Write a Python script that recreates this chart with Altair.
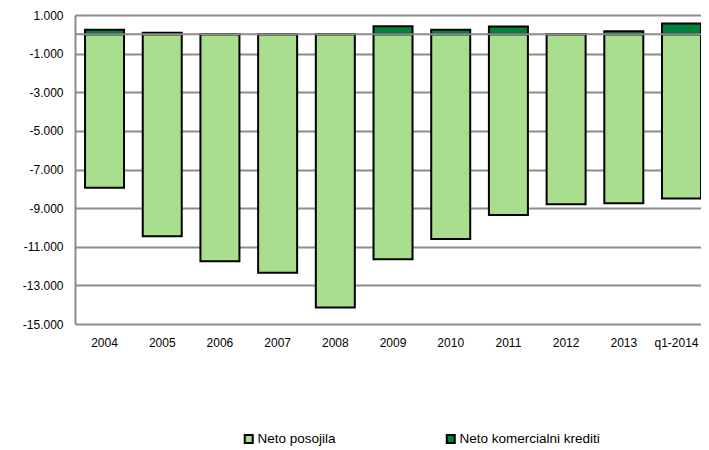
import altair as alt
import pandas as pd

categories = ["2004", "2005", "2006", "2007", "2008", "2009", "2010", "2011", "2012", "2013", "q1-2014"]
neto_posojila = [-7950, -10450, -11750, -12350, -14150, -11650, -10600, -9350, -8800, -8750, -8500]
neto_komercialni = [230, 80, 10, 10, 10, 420, 230, 400, 10, 160, 560]
series_names = ["Neto posojila", "Neto komercialni krediti"]
series_colors = ["#A9DE8F", "#00843D"]
y_ticks = [1000, -1000, -3000, -5000, -7000, -9000, -11000, -13000, -15000]

rows = []
for i, c in enumerate(categories):
    rows.append({"cat": c, "series": series_names[0], "value": neto_posojila[i], "ord": 0})
    rows.append({"cat": c, "series": series_names[1], "value": neto_komercialni[i], "ord": 1})
df = pd.DataFrame(rows)

FONT = "Liberation Sans"

y_axis = alt.Axis(values=y_ticks, ticks=False, domain=True, domainColor="#8c8c8c",
                  domainWidth=2, gridColor="#8c8c8c", gridWidth=2,
                  labelOverlap=False,
                  labelFontSize=12, labelColor="#000000", labelFont=FONT,
                  labelPadding=12,
                  labelExpr="(datum.value < 0 ? '-' : '') + replace(format(abs(datum.value), ','), ',', '.')")
y_scale = alt.Scale(domain=[-15000, 1000], nice=False, zero=False)

bars = alt.Chart(df).mark_bar(stroke="black", strokeWidth=2).encode(
    x=alt.X("cat:N", sort=categories, title=None,
            scale=alt.Scale(paddingInner=0.324, paddingOuter=0.087, align=1),
            axis=alt.Axis(labelAngle=0, ticks=False, domain=False, grid=False,
                          labelPadding=13, labelFontSize=12, labelColor="#000000",
                          labelFont=FONT, labelOverlap=False, labelBound=False,
                          labelOffset=alt.expr("datum.label == 'q1-2014' ? -5 : 0"))),
    y=alt.Y("value:Q", stack="zero", title=None, scale=y_scale, axis=y_axis),
    color=alt.Color("series:N", sort=series_names, title=None,
                    scale=alt.Scale(domain=series_names, range=series_colors),
                    legend=alt.Legend(orient="none", legendX=167, legendY=417, direction="horizontal",
                                      symbolType="square", symbolSize=64, symbolStrokeColor="black",
                                      symbolStrokeWidth=2, labelFontSize=13.5, labelFont=FONT,
                                      labelColor="#000000", columnPadding=106, labelOffset=2)),
    order=alt.Order("ord:Q"),
)

zero_rule = alt.Chart(pd.DataFrame({"value": [0]})).mark_rule(color="#8c8c8c", strokeWidth=2).encode(
    y=alt.Y("value:Q", title=None, scale=y_scale, axis=y_axis)
)

chart = alt.layer(bars, zero_rule).properties(
    width=626, height=309,
    padding={"left": 67, "top": 7, "right": 0, "bottom": 125},
    autosize=alt.AutoSizeParams(type="none"),
).configure_view(stroke=None).configure(font=FONT)

chart.save("out.html", embed_options={"renderer": "svg", "actions": False})
